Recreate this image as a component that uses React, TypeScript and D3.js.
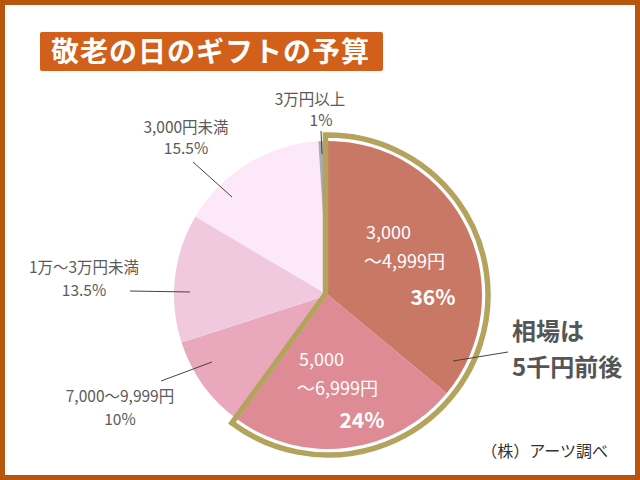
import React from "react";
import * as d3 from "d3";

const categories = ["3,000〜4,999円", "5,000〜6,999円", "7,000〜9,999円", "1万〜3万円未満", "3,000円未満", "3万円以上"];
const values = [36, 24, 10, 13.5, 15.5, 1];
const colors = ["#c97866", "#de8b95", "#eaa8bc", "#f1c9de", "#fce8f8", "#aea8b8"];

const W = 640, H = 480;
const cx = 328, cy = 295, R = 154;
const FONT = "'Noto Sans CJK JP', 'Noto Sans', sans-serif";

export default function App() {
  const pie = d3.pie<number>().sort(null).value((d) => d);
  const arcs = pie(values);
  const arcGen = d3.arc<d3.PieArcDatum<number>>().innerRadius(0).outerRadius(R);

  // gold outline around the first two slices
  const d = 2.5;
  const Rg = R + 6;
  const a0 = arcs[0].startAngle;
  const a1 = arcs[1].endAngle;
  const pt = (a: number, r: number) => [cx + r * Math.sin(a), cy - r * Math.cos(a)];
  const s0 = a0 - Math.asin(d / Rg);
  const s1 = a1 + Math.asin(d / Rg);
  const u1 = [Math.sin(a0), -Math.cos(a0)];
  const u2 = [Math.sin(a1), -Math.cos(a1)];
  const normOut = (u: number[]) => [-u[1], u[0]];
  const N1 = normOut(u1);
  const N1f = N1[0] > 0 ? [-N1[0], -N1[1]] : N1;
  const N2a = normOut(u2);
  const mid = a1 + 0.3;
  const outDir = [Math.sin(mid), -Math.cos(mid)];
  const N2f = N2a[0] * outDir[0] + N2a[1] * outDir[1] > 0 ? N2a : [-N2a[0], -N2a[1]];
  const det = N1f[0] * N2f[1] - N1f[1] * N2f[0];
  const px = (d * N2f[1] - N1f[1] * d) / det;
  const py = (N1f[0] * d - d * N2f[0]) / det;
  const P0 = [cx + px, cy + py];
  const S0 = pt(s0, Rg);
  const S1 = pt(s1, Rg);
  const goldPath = `M${P0[0]},${P0[1]} L${S0[0]},${S0[1]} A${Rg},${Rg} 0 1 1 ${S1[0]},${S1[1]} Z`;

  const gray = "#5a5a5a";
  const labelStyle = { fontFamily: FONT, fontSize: 15.5, fill: gray } as const;
  const inStyle = { fontFamily: FONT, fontSize: 18, fill: "#ffffff" } as const;
  const pctStyle = { fontFamily: FONT, fontSize: 21, fontWeight: 700, fill: "#ffffff" } as const;
  const noteStyle = { fontFamily: FONT, fontSize: 24, fontWeight: 700, fill: "#555" } as const;

  return (
    <svg width={W} height={H} style={{ position: "absolute", left: 0, top: 0 }}>
      <rect x={0} y={0} width={W} height={H} fill="#b9540f" />
      <rect x={5} y={5} width={W - 10} height={H - 10} fill="#ffffff" />
      <rect x={40} y={32} width={343} height={39} rx={2} fill="#d2601b" />
      <text x={51} y={62} textLength={318} lengthAdjust="spacing" style={{ fontFamily: FONT, fontSize: 28, fontWeight: 700, fill: "#fff" }}>
        敬老の日のギフトの予算
      </text>

      <g>
        {arcs.map((a, i) => (
          <path key={categories[i]} d={arcGen(a) || ""} transform={`translate(${cx},${cy})`} fill={colors[i]} />
        ))}
      </g>
      <path d={goldPath} fill="none" stroke="#b4a35c" strokeWidth={5.5} strokeLinejoin="miter" />

      <g stroke="#444" strokeWidth={1}>
        <line x1={321} y1={131} x2={322} y2={154} />
        <line x1={193} y1={162} x2={232} y2={197} />
        <line x1={130} y1={291} x2={190} y2={292} />
        <line x1={161} y1={381} x2={212} y2={362} />
        <line x1={453} y1={361} x2={508} y2={352} />
      </g>

      <text x={310} y={105} textAnchor="middle" style={labelStyle}>3万円以上</text>
      <text x={321} y={126} textAnchor="middle" style={labelStyle}>{values[5]}%</text>
      <text x={186} y={133} textAnchor="middle" style={labelStyle}>3,000円未満</text>
      <text x={186} y={154} textAnchor="middle" style={labelStyle}>{values[4]}%</text>
      <text x={84} y={273} textAnchor="middle" style={labelStyle}>1万〜3万円未満</text>
      <text x={84} y={296} textAnchor="middle" style={labelStyle}>{values[3]}%</text>
      <text x={120} y={402} textAnchor="middle" style={labelStyle}>7,000〜9,999円</text>
      <text x={120} y={425} textAnchor="middle" style={labelStyle}>{values[2]}%</text>

      <text x={366} y={239} style={inStyle}>3,000</text>
      <text x={364} y={268} style={inStyle}>〜4,999円</text>
      <text x={433} y={305} textAnchor="middle" style={pctStyle}>{values[0]}%</text>

      <text x={299} y={366} style={inStyle}>5,000</text>
      <text x={297} y={395} style={inStyle}>〜6,999円</text>
      <text x={362} y={428} textAnchor="middle" style={pctStyle}>{values[1]}%</text>

      <text x={512} y={340} style={noteStyle}>相場は</text>
      <text x={512} y={376} style={noteStyle}>5千円前後</text>

      <text x={608} y={457} textAnchor="end" style={{ fontFamily: FONT, fontSize: 16, fill: "#333" }}>（株）アーツ調べ</text>
    </svg>
  );
}
